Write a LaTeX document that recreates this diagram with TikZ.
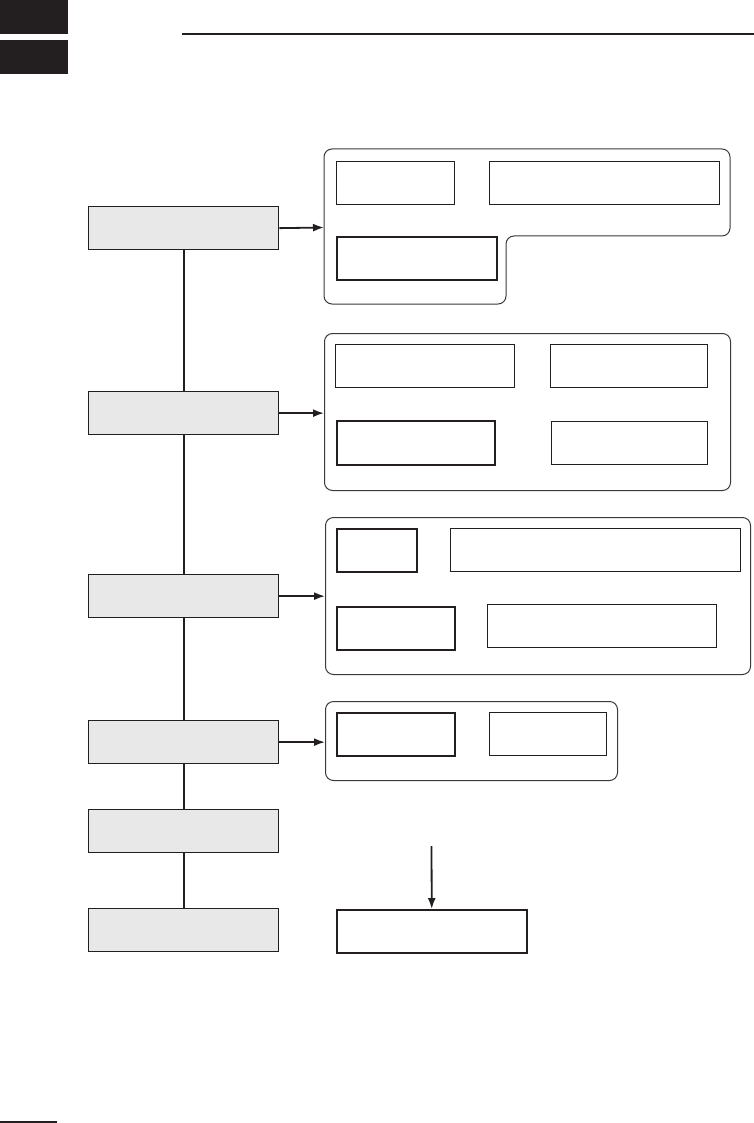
\documentclass[tikz,border=0pt]{standalone}
\usetikzlibrary{arrows.meta}
\definecolor{ink}{HTML}{231F20}
\definecolor{boxgray}{HTML}{E8E8E8}
\definecolor{grpline}{HTML}{3A3A3A}
\begin{document}
\begin{tikzpicture}[x=1pt,y=-1pt,
  stepbox/.style={draw=ink, fill=boxgray, line width=1.3pt, anchor=north west, inner sep=0pt, minimum width=190pt, minimum height=43pt},
  itembox/.style={draw=ink, line width=1.1pt, anchor=north west, inner sep=0pt},
  thickitem/.style={itembox, line width=1.5pt},
  grp/.style={draw=grpline, line width=1pt, rounded corners=8pt, anchor=north west, inner sep=0pt},
  conn/.style={draw=ink, line width=1.8pt},
  arr/.style={draw=ink, line width=1.8pt, -{Latex[length=11pt,width=8pt]}}]
\useasboundingbox (0,0) rectangle (754,1123);
% header
\fill[ink] (0,0) rectangle (68,34);
\fill[ink] (0,40) rectangle (68,74);
\draw[ink, line width=2.3pt] (182,34) -- (754,34);
\draw[ink, line width=1.3pt] (0,1122) -- (57,1122);

% left step boxes
\node[stepbox] (b1) at (88,206) {};
\node[stepbox] (b2) at (88,391) {};
\node[stepbox] (b3) at (88,574) {};
\node[stepbox] (b4) at (88,720) {};
\node[stepbox] (b5) at (88,809) {};
\node[stepbox] (b6) at (88,908) {};
\draw[conn] (b1.south) -- (b2.north);
\draw[conn] (b2.south) -- (b3.north);
\draw[conn] (b3.south) -- (b4.north);
\draw[conn] (b4.south) -- (b5.north);
\draw[conn] (b5.south) -- (b6.north);

% group 1 (notched outline)
\draw[grpline, line width=1pt, rounded corners=8pt]
  (324,149) -- (730,149) -- (730,236) -- (506,236) -- (506,304) -- (324,304) -- cycle;
\coordinate (g1w) at (324,227.5);
\node[itembox, minimum width=118pt, minimum height=43pt] (a1) at (336,161) {};
\node[itembox, minimum width=230pt, minimum height=43pt] (a2) at (489,161) {};
\node[thickitem, minimum width=160pt, minimum height=43pt] (a3) at (336,236) {};
\draw[arr] (b1.east) -- (g1w);

% group 2
\node[grp, minimum width=406pt, minimum height=157pt] (g2) at (324,333) {};
\node[itembox, minimum width=179pt, minimum height=43pt] (c1) at (335,344) {};
\node[itembox, minimum width=157pt, minimum height=43pt] (c2) at (550,344) {};
\node[thickitem, minimum width=158pt, minimum height=44pt] (c3) at (336,420) {};
\node[itembox, minimum width=156pt, minimum height=43pt] (c4) at (551,421) {};
\draw[arr] (b2.east) -- (b2.east -| g2.west);

% group 3
\node[grp, minimum width=425pt, minimum height=157pt] (g3) at (325,517) {};
\node[thickitem, minimum width=80pt, minimum height=43pt] (d1) at (336,528) {};
\node[itembox, minimum width=290pt, minimum height=43pt] (d2) at (450,528) {};
\node[thickitem, minimum width=118pt, minimum height=43pt] (d3) at (336,606) {};
\node[itembox, minimum width=229pt, minimum height=43pt] (d4) at (487,604) {};
\draw[arr] (b3.east) -- (b3.east -| g3.west);

% group 4
\node[grp, minimum width=292pt, minimum height=79pt] (g4) at (325,701) {};
\node[thickitem, minimum width=118pt, minimum height=43pt] (e1) at (336,712) {};
\node[itembox, minimum width=117pt, minimum height=43pt] (e2) at (489,712) {};
\draw[arr] (b4.east) -- (b4.east -| g4.west);

% bottom
\node[thickitem, minimum width=190pt, minimum height=43pt] (n1) at (336,909) {};
\coordinate (ntop) at (431.5,846);
\draw[arr] (ntop) -- (n1.north);
\end{tikzpicture}
\end{document}
